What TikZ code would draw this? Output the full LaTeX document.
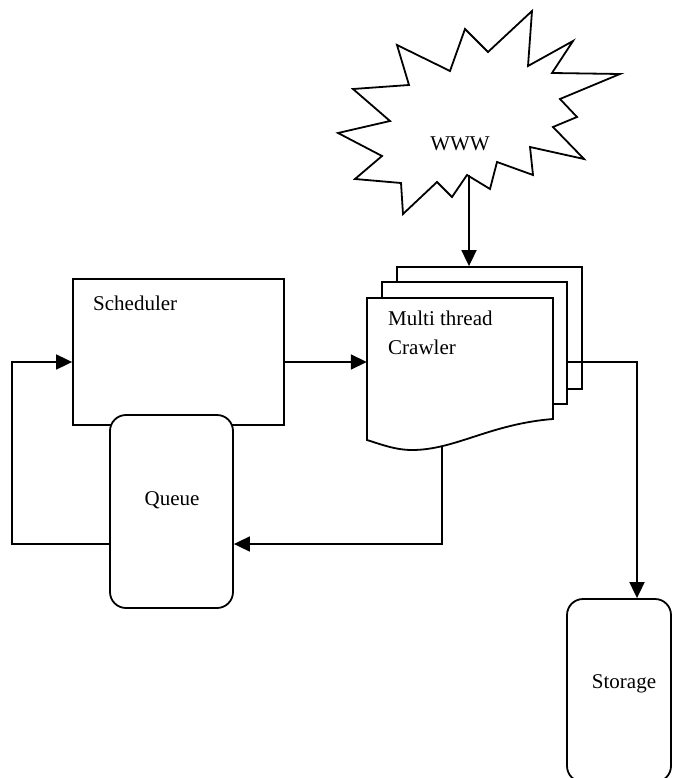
\documentclass[tikz,border=0pt]{standalone}
\usepackage{fontspec}
\setmainfont{Liberation Serif}
\usepackage{tikz}
\usetikzlibrary{arrows.meta,positioning}
\tikzset{
  basic/.style  = {draw, line width=1.8pt, fill=white, inner sep=0pt},
  box/.style    = {basic, rectangle},
  rbox/.style   = {basic, rectangle, rounded corners=16pt},
  page/.style   = {basic, rectangle, minimum width=185pt, minimum height=122pt},
  txt/.style    = {font=\fontsize{21}{29}\selectfont, inner sep=0pt},
  conn/.style   = {->, line width=1.8pt}
}

\begin{document}
\begin{tikzpicture}[x=1pt, y=-1pt, >={Triangle[length=16pt,width=15pt]}]
\useasboundingbox (0,0) rectangle (672,778);

% scheduler and the queue lying over its lower edge
\node[box, minimum width=211pt, minimum height=146pt] (sched) at (178.5,352) {};
\node[rbox, minimum width=123pt, minimum height=193pt] (queue) at (171.5,511.5) {};

% the crawler, a stack of three pages
\node[page] (pageC) at (489.5,328) {};
\node[page] (pageB) at (474.5,343) {};
\draw[basic] (367,298) -- (553,298) -- (553,419)
  .. controls (490,424) and (455,450) .. (412,450)
  .. controls (395,450) and (380,444) .. (367,440) -- cycle;
\node[minimum width=186pt, minimum height=142pt, inner sep=0pt] (crawler) at (460,369) {};
\coordinate (crawlbot) at (442,447);

% the web
\draw[basic] (532,11) -- (528,66) -- (573,41) -- (552,73) -- (620,74) -- (560,99)
  -- (577,117) -- (553,127) -- (584,159) -- (530,147) -- (533,175) -- (497,162)
  -- (490,189) -- (467,175) -- (452,197) -- (437,182) -- (403,214) -- (401,183)
  -- (355,179) -- (382,156) -- (338,133) -- (390,121) -- (353,89) -- (409,85)
  -- (397,45) -- (450,71) -- (465,29) -- (488,52) -- cycle;
\coordinate (wwwtip) at (469,175);

% storage, cut off by the page edge
\node[rbox, minimum width=104pt, minimum height=183pt] (storage) at (619,690.5) {};

% texts
\node[txt, anchor=base west] (schedtxt) at (93,310) {Scheduler};
\node[txt, anchor=base] (queuetxt) at (172,505) {Queue};
\node[txt, anchor=north west, align=left] (crawltxt) at (388,311) {Multi thread\\Crawler};
\node[txt, anchor=base] (www) at (460,150) {WWW};
\node[txt, anchor=base] (storetxt) at (624,688) {Storage};

% connectors
\draw[conn] (wwwtip) -- (wwwtip |- pageC.north);
\draw[conn] ([yshift=-10pt]sched.east) -- ([yshift=-10pt]sched.east -| crawler.west);
\draw[conn] ([yshift=-19pt]pageB.east) -| ([xshift=18pt]storage.north);
\draw[conn] (crawlbot) |- ([yshift=-32.5pt]queue.east);
\draw[conn] ([yshift=-32.5pt]queue.west) -- ++(-97,0) |- ([yshift=-10pt]sched.west);
\end{tikzpicture}
\end{document}
